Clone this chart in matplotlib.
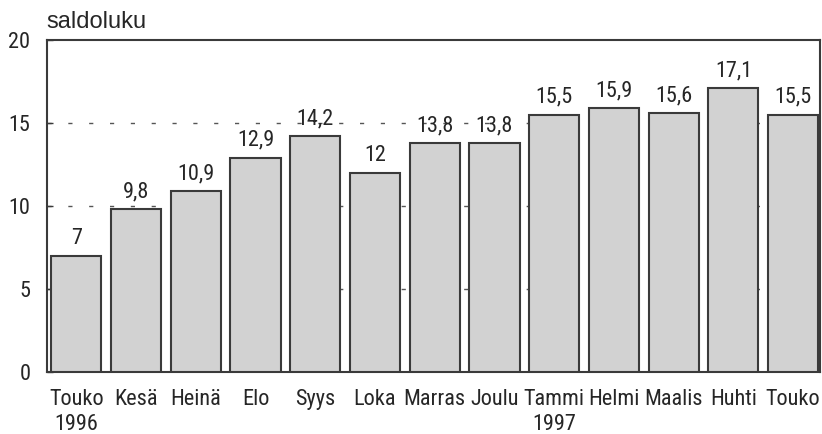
import matplotlib
matplotlib.use('Agg')
import matplotlib.pyplot as plt
from matplotlib import font_manager
import numpy as np

# Data
months = ['Touko\n1996', 'Kesä', 'Heinä', 'Elo', 'Syys', 'Loka', 'Marras',
          'Joulu', 'Tammi\n1997', 'Helmi', 'Maalis', 'Huhti', 'Touko']
values = [7, 9.8, 10.9, 12.9, 14.2, 12, 13.8, 13.8, 15.5, 15.9, 15.6, 17.1, 15.5]
yticks = [0, 5, 10, 15, 20]

# pick a narrow font if one is around
names = {f.name for f in font_manager.fontManager.ttflist}
family = [n for n in ['Liberation Sans Narrow', 'Roboto Condensed', 'Roboto']
          if n in names] + ['DejaVu Sans']
plt.rcParams['font.family'] = family
plt.rcParams['font.stretch'] = 'condensed'

fig = plt.figure(figsize=(8.22, 4.34), dpi=100)
ax = fig.add_axes([0.0572, 0.1429, 0.9404, 0.7649])

x = np.arange(len(values))
ax.bar(x, values, width=0.84, color='#d2d2d2', edgecolor='#3a3a3a',
       linewidth=1.5, zorder=3)

for xi, v in zip(x, values):
    label = f'{v:g}'.replace('.', ',')
    ax.annotate(label, (xi, v), xytext=(0, 5), textcoords='offset points',
                ha='center', va='bottom', fontsize=16, color='#262626')

ax.set_xlim(-0.49, 12.45)
ax.set_ylim(0, 20)
ax.set_yticks(yticks)
ax.set_yticklabels([str(t) for t in yticks], fontsize=16, color='#262626')
ax.set_xticks(x)
ax.set_xticklabels(months, fontsize=16, color='#262626', linespacing=1.3)
ax.tick_params(axis='x', length=0, pad=12)
ax.tick_params(axis='y', direction='in', length=4, width=1, pad=12,
               color='#3a3a3a')

for g in [5, 10, 15]:
    ax.axhline(g, color='#555555', lw=1, linestyle=(0, (3, 12)), zorder=1)

for s in ax.spines.values():
    s.set_color('#3a3a3a')
    s.set_linewidth(1.5)

fig.text(0.057, 0.950, 'saldoluku', fontsize=17, color='#262626',
         ha='left', va='center',
         family=['Liberation Sans', 'DejaVu Sans'], stretch='normal')

plt.savefig('out.png', dpi=100)
